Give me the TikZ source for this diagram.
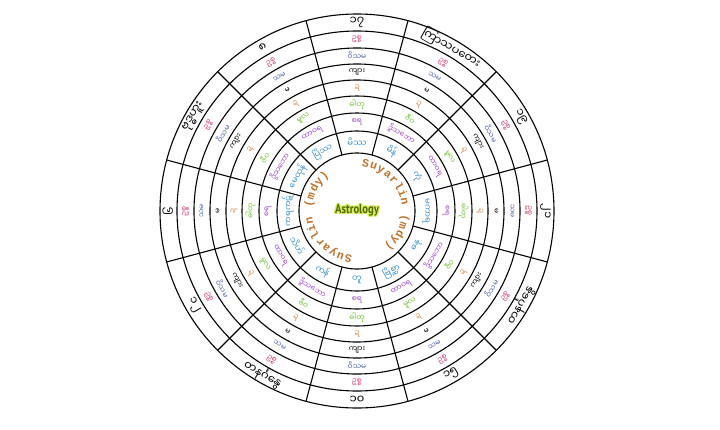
\documentclass[tikz,border=0pt]{standalone}
\usepackage{fontspec}
\usepackage[copies]{contour}
\newfontfamily\mmfont[Script=Myanmar]{Noto Sans Myanmar UI}
\newfontfamily\astrofont[FakeStretch=0.82]{PT Sans}
\newfontfamily\slabfont{Liberation Mono}
\usetikzlibrary{decorations.text}
\definecolor{rpink}{HTML}{D23C6E}
\definecolor{rblue}{HTML}{4A5FA8}
\definecolor{rorange}{HTML}{D08A4C}
\definecolor{rgreen}{HTML}{6CBF2A}
\definecolor{rpurple}{HTML}{9B3FC8}
\definecolor{rcyan}{HTML}{3A8FC8}
\definecolor{sybrown}{HTML}{C0702A}
\definecolor{astrogreen}{HTML}{4F6A10}
\definecolor{astroglow}{HTML}{D8EE5A}
\contourlength{1.4pt}
\contournumber{10}
\tikzset{
  ringline/.style={line width=1.1pt, black},
  numtxt/.style={font=\mmfont\fontsize{11.5}{11.5}\selectfont, inner sep=0pt},
  celltxt/.style={font=\mmfont\fontsize{7.5}{7.5}\selectfont, inner sep=0pt},
}
\begin{document}
\begin{tikzpicture}[x=1pt, y=1pt]
  \useasboundingbox (-357,-218) rectangle (363,211);

  % rings and sector lines
  \foreach \r in {197,180,163,147,131,115,98,80,58}
    \draw[ringline] (0,0) circle (\r);
  \foreach \a in {15,45,...,345}
    \draw[ringline] (\a:58) -- (\a:197);

  % outer ring
  \foreach \a/\t in {90/၁၇, 60/ကြာသပတေး, 30/၁၉, 0/၂၁, -30/တနင်္ဂနွေ, -60/၁၅,
                     -90/၁၀, -120/တနင်္ဂနွေ, -150/၁၂, 180/၆, 150/ဗုဒ္ဓဟူး, 120/၈} {
    \pgfmathsetmacro{\rot}{ifthenelse(sin(\a)<-0.01,\a+90,\a-90)}
    \node[numtxt, rotate=\rot] (n\a) at (\a:188.5) {\t};
  }
  % pink ring
  \foreach \a/\t in {90/ဥစ္စ, 60/ဥစ္စ, 30/ဥစ္စ, 0/ဥစ္စ, -30/ဥစ္စ, -60/ဥစ္စ,
                     -90/ဥစ္စ, -120/ဥစ္စ, -150/ဥစ္စ, 180/ဥစ္စ, 150/ဥစ္စ, 120/ဥစ္စ} {
    \pgfmathsetmacro{\rot}{ifthenelse(sin(\a)<-0.01,\a+90,\a-90)}
    \node[celltxt, text=rpink, rotate=\rot] (p\a) at (\a:171.5) {\t};
  }
  % odd / even signs
  \foreach \a/\t in {90/ဝိသမ, 60/သမ, 30/ဝိသမ, 0/သမ, -30/ဝိသမ, -60/သမ,
                     -90/ဝိသမ, -120/သမ, -150/ဝိသမ, 180/သမ, 150/ဝိသမ, 120/သမ} {
    \pgfmathsetmacro{\rot}{ifthenelse(sin(\a)<-0.01,\a+90,\a-90)}
    \node[celltxt, text=rblue, rotate=\rot] (b\a) at (\a:155) {\t};
  }
  % male / female signs
  \foreach \a/\t in {90/ကျား, 60/မ, 30/ကျား, 0/မ, -30/ကျား, -60/မ,
                     -90/ကျား, -120/မ, -150/ကျား, 180/မ, 150/ကျား, 120/မ} {
    \pgfmathsetmacro{\rot}{ifthenelse(sin(\a)<-0.01,\a+90,\a-90)}
    \node[celltxt, rotate=\rot] (k\a) at (\a:139) {\t};
  }
  % orange ring
  \foreach \a in {90,60,...,-240} {
    \pgfmathsetmacro{\rot}{ifthenelse(sin(\a)<-0.01,\a+90,\a-90)}
    \node[celltxt, text=rorange, rotate=\rot] (o\a) at (\a:123) {ဍ};
  }
  % dhatu / mula / jiva
  \foreach \a/\t in {90/ဓါတု, 60/ဇီဝ, 30/မူလ, 0/ဓါတု, -30/ဇီဝ, -60/မူလ,
                     -90/ဓါတု, -120/ဇီဝ, -150/မူလ, 180/ဓါတု, 150/ဇီဝ, 120/မူလ} {
    \pgfmathsetmacro{\rot}{ifthenelse(sin(\a)<-0.01,\a+90,\a-90)}
    \node[celltxt, text=rgreen, rotate=\rot] (g\a) at (\a:106.5) {\t};
  }
  % movable / fixed / dual
  \foreach \a/\t in {90/စရ, 60/ဒွိသဘော, 30/ထာဝရ, 0/စရ, -30/ဒွိသဘော, -60/ထာဝရ,
                     -90/စရ, -120/ဒွိသဘော, -150/ထာဝရ, 180/စရ, 150/ဒွိသဘော, 120/ထာဝရ} {
    \pgfmathsetmacro{\rot}{ifthenelse(sin(\a)<-0.01,\a+90,\a-90)}
    \node[celltxt, text=rpurple, rotate=\rot] (u\a) at (\a:89) {\t};
  }
  % signs
  \foreach \a/\t in {90/မိဿ, 60/မိန်, 30/ကုံ, 0/မကာရ, -30/ဓနု, -60/ဗြိစ္ဆာ,
                     -90/တူ, -120/ကန်, -150/သိဟ်, 180/ကရကဋ်, 150/မေထုန်, 120/ပြိဿ} {
    \pgfmathsetmacro{\rot}{ifthenelse(sin(\a)<-0.01,\a+90,\a-90)}
    \node[celltxt, font=\mmfont\fontsize{8.5}{8.5}\selectfont, text=rcyan, rotate=\rot] (z\a) at (\a:69) {\t};
  }

  % centre
  \path[decorate, decoration={text along path, text align=fit to path, text color=sybrown,
        text={|\slabfont\bfseries\fontsize{11.5}{11.5}\selectfont|Suyarlin (mdy)}}]
        (84:45) arc (84:-52:45);
  \path[decorate, decoration={text along path, text align=fit to path, text color=sybrown,
        text={|\slabfont\bfseries\fontsize{11.5}{11.5}\selectfont|Suyarlin (mdy)}}]
        (-96:45) arc (-96:-232:45);
  \node[font=\astrofont\bfseries\fontsize{13}{13}\selectfont, text=astrogreen] (astro) at (0,0)
    {\contour{astroglow}{Astrology}};
\end{tikzpicture}
\end{document}
